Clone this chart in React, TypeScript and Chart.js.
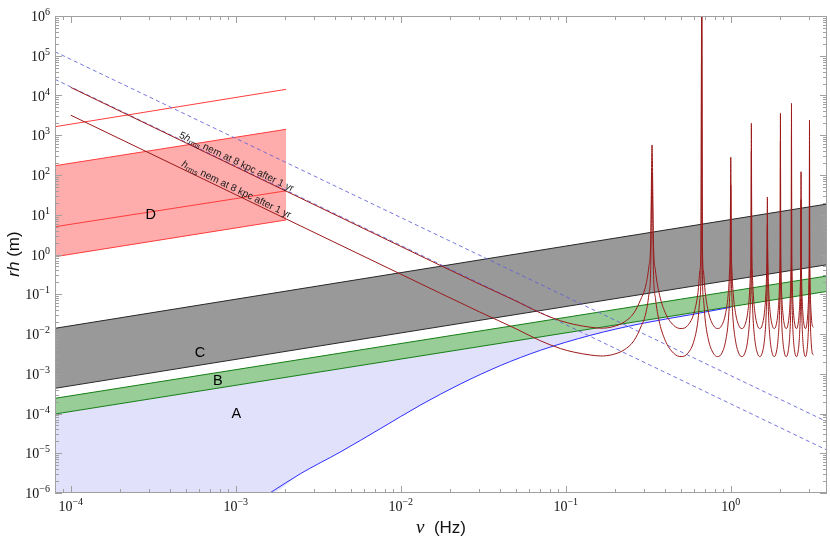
import { useEffect, useRef } from 'react';
import { Chart, registerables } from 'chart.js';

Chart.register(...registerables);

// ---- axis ranges ----
const X_MIN = 8.03e-5;
const X_MAX = 3.83;
const Y_MIN = 1e-6;
const Y_MAX = 1e6;
const xTickExp = [-4, -3, -2, -1, 0];
const yTickExp = [-6, -5, -4, -3, -2, -1, 0, 1, 2, 3, 4, 5, 6];
const minorMult = [2, 3, 4, 5, 6, 7, 8, 9];

// ---- bands B and C (values at left / right plot edge) ----
const bandFreq = [8.03e-5, 3.83];
const cUpper = [1.39e-2, 18.6];
const cLower = [4.3e-4, 0.553];
const bUpper = [2.41e-4, 0.288];
const bLower = [9.7e-5, 0.118];

// ---- band D ----
const dFreq = [8.03e-5, 2.02e-3];
const dTop = [1640, 14300];
const dUpper = [171, 1410];
const dMid = [5.0, 40];
const dLower = [0.88, 7.4];

// ---- region A (lower boundary, blue curve) ----
const aFreq = [8.03e-5, 1.61e-3, 2.48e-3, 4.33e-3, 7.57e-3, 1.32e-2, 2.31e-2, 4.04e-2, 7.05e-2, 0.142, 0.285, 0.573, 1.0];
const aLower = [1e-6, 1e-6, 3.1e-6, 1.09e-5, 4.22e-5, 1.64e-4, 5.58e-4, 1.62e-3, 3.91e-3, 9.33e-3, 1.82e-2, 3.06e-2, 4.7e-2];

// ---- dashed nem lines ----
const nemFreq = [8.03e-5, 3.83];
const nemUpper = [1.26e5, 6.2e-5];
const nemLower = [2.55e4, 1.2e-5];

// ---- h_rms and 5 h_rms curves ----
const lowFreq = [1e-4, 1e-3, 1e-2, 0.03, 0.05, 0.07, 0.093, 0.112, 0.142, 0.163, 0.19, 0.226, 0.259, 0.285, 0.306, 0.319, 0.327];
const lowH = [3200, 32, 0.32, 0.036, 0.0135, 6.8e-3, 4.3e-3, 3.5e-3, 2.95e-3, 2.8e-3, 3.0e-3, 4.0e-3, 6.8e-3, 0.015, 0.034, 0.10, 0.39];
const lowH5 = [16000, 160, 1.6, 0.18, 0.0675, 0.034, 0.0215, 0.0175, 0.01475, 0.014, 0.015, 0.020, 0.034, 0.075, 0.17, 0.50, 1.95];

const peakFreq = [0.3333, 0.6667, 1.0, 1.3333, 1.6667, 2.0, 2.3333, 2.6667, 3.0];
const peakH = [114, 2e6, 56, 400, 5.6, 714, 1270, 24, 484];
const peakH5 = [569, 1e7, 279, 2000, 28, 3570, 6360, 121, 2420];

const archFreq1 = [0.340, 0.350, 0.367, 0.400, 0.450, 0.500, 0.550, 0.600, 0.633, 0.650, 0.660];
const archFreq2 = [0.673, 0.683, 0.700, 0.733, 0.783, 0.833, 0.883, 0.933, 0.967, 0.983, 0.993];
const archFreq3 = [1.007, 1.017, 1.033, 1.067, 1.117, 1.167, 1.217, 1.267, 1.300, 1.317, 1.327];
const archFreq4 = [1.340, 1.350, 1.367, 1.400, 1.450, 1.500, 1.550, 1.600, 1.633, 1.650, 1.660];
const archFreq5 = [1.673, 1.683, 1.700, 1.733, 1.783, 1.833, 1.883, 1.933, 1.967, 1.983, 1.993];
const archFreq6 = [2.007, 2.017, 2.033, 2.067, 2.117, 2.167, 2.217, 2.267, 2.300, 2.317, 2.327];
const archFreq7 = [2.340, 2.350, 2.367, 2.400, 2.450, 2.500, 2.550, 2.600, 2.633, 2.650, 2.660];
const archFreq8 = [2.673, 2.683, 2.700, 2.733, 2.783, 2.833, 2.883, 2.933, 2.967, 2.983, 2.993];
const tailFreq = [3.007, 3.017, 3.033, 3.067, 3.117, 3.17];

const archH = [0.39, 0.077, 0.0224, 0.0070, 0.0033, 0.0027, 0.0033, 0.0070, 0.0224, 0.077, 0.39];
const archH5 = [1.95, 0.385, 0.112, 0.035, 0.0166, 0.0137, 0.0166, 0.035, 0.112, 0.385, 1.95];
const tailH = [0.39, 0.077, 0.0224, 0.0070, 0.0033, 0.0030];
const tailH5 = [1.95, 0.385, 0.112, 0.035, 0.0166, 0.0147];

// ---- text labels ----
const regionLabels = ['A', 'B', 'C', 'D'];
const regionFreq = [1.01e-3, 7.8e-4, 6.07e-4, 3.05e-4];
const regionVal = [9.9e-5, 6.65e-4, 3.37e-3, 9.86];

const COL = {
  red: 'rgb(255,60,60)',
  pink: 'rgb(255,172,172)',
  brown: 'rgb(155,25,25)',
  dash: 'rgba(95,95,215,0.85)',
  gray: 'rgb(153,153,153)',
  grayEdge: 'rgb(40,40,40)',
  green: 'rgb(152,205,152)',
  greenEdge: 'rgb(20,125,20)',
  lav: 'rgb(225,225,252)',
  blue: 'rgb(45,45,255)',
  frame: 'rgb(160,160,160)',
};

const pts = (xs: number[], ys: number[]) => xs.map((x, i) => ({ x, y: ys[i] }));

function buildCurve(lowV: number[], peakV: number[], archV: number[], tailV: number[]) {
  const arches = [archFreq1, archFreq2, archFreq3, archFreq4, archFreq5, archFreq6, archFreq7, archFreq8];
  const out = pts(lowFreq, lowV);
  peakFreq.forEach((pf, k) => {
    out.push({ x: pf, y: peakV[k] });
    const fs = k < arches.length ? arches[k] : tailFreq;
    const vs = k < arches.length ? archV : tailV;
    fs.forEach((f, i) => out.push({ x: f, y: vs[i] }));
  });
  return out;
}

const SANS = '"Liberation Sans", Arial, sans-serif';
const SERIF = '"Liberation Serif", "Times New Roman", serif';

function drawPow(ctx: CanvasRenderingContext2D, exp: number, px: number, baseY: number, align: string) {
  const base = '10';
  const e = exp < 0 ? '\u2212' + -exp : String(exp);
  ctx.font = '14px ' + SERIF;
  const wb = ctx.measureText(base).width;
  ctx.font = '10px ' + SERIF;
  const we = ctx.measureText(e).width;
  const total = wb + we;
  const left = align === 'center' ? px - total / 2 : px - total;
  ctx.textAlign = 'left';
  ctx.textBaseline = 'alphabetic';
  ctx.font = '14px ' + SERIF;
  ctx.fillText(base, left, baseY);
  ctx.font = '10px ' + SERIF;
  ctx.fillText(e, left + wb, baseY - 6);
}

function drawParts(ctx: CanvasRenderingContext2D, parts: { t: string; f: string; dy?: number }[], x0: number, y0: number) {
  let x = x0;
  ctx.textAlign = 'left';
  ctx.textBaseline = 'alphabetic';
  for (const p of parts) {
    ctx.font = p.f;
    ctx.fillText(p.t, x, y0 + (p.dy || 0));
    x += ctx.measureText(p.t).width;
  }
  return x - x0;
}

function partsWidth(ctx: CanvasRenderingContext2D, parts: { t: string; f: string }[]) {
  let w = 0;
  parts.forEach((p) => { ctx.font = p.f; w += ctx.measureText(p.t).width; });
  return w;
}

const decor = {
  id: 'decor',
  afterDraw(chart: any) {
    const { ctx, chartArea: a, scales } = chart;
    const xs = scales.x;
    const ys = scales.y;
    ctx.save();

    // frame
    ctx.strokeStyle = COL.frame;
    ctx.lineWidth = 1;
    ctx.strokeRect(a.left + 0.5, a.top + 0.5, a.right - a.left - 1, a.bottom - a.top - 1);

    // ticks
    ctx.beginPath();
    for (let d = -5; d <= 0; d++) {
      [1, ...minorMult].forEach((m) => {
        const v = m * Math.pow(10, d);
        if (v < X_MIN || v > X_MAX) return;
        const px = Math.round(xs.getPixelForValue(v)) + 0.5;
        const len = m === 1 ? 7 : 4;
        ctx.moveTo(px, a.bottom);
        ctx.lineTo(px, a.bottom - len);
        ctx.moveTo(px, a.top);
        ctx.lineTo(px, a.top + len);
      });
    }
    for (let d = -6; d <= 6; d++) {
      [1, ...minorMult].forEach((m) => {
        const v = m * Math.pow(10, d);
        if (v < Y_MIN || v > Y_MAX * 1.0001) return;
        const py = Math.round(ys.getPixelForValue(v)) + 0.5;
        const len = m === 1 ? 7 : 4;
        ctx.moveTo(a.left, py);
        ctx.lineTo(a.left + len, py);
        ctx.moveTo(a.right, py);
        ctx.lineTo(a.right - len, py);
      });
    }
    ctx.stroke();

    // tick labels
    ctx.fillStyle = '#111';
    xTickExp.forEach((e) => {
      const px = xs.getPixelForValue(Math.pow(10, e));
      drawPow(ctx, e, px, a.bottom + 18, 'center');
    });
    yTickExp.forEach((e) => {
      const py = ys.getPixelForValue(Math.pow(10, e));
      drawPow(ctx, e, a.left - 5, py + 5, 'right');
    });

    // axis titles
    ctx.fillStyle = '#111';
    {
      const parts = [
        { t: '\u03BD', f: 'italic 19px ' + SERIF },
        { t: '  (Hz)', f: '17px ' + SANS },
      ];
      const w = partsWidth(ctx, parts);
      drawParts(ctx, parts, 441 - w / 2, 533);
    }
    {
      const parts = [
        { t: 'rh', f: 'italic 17px ' + SANS },
        { t: ' (m)', f: '17px ' + SANS },
      ];
      const w = partsWidth(ctx, parts);
      ctx.save();
      ctx.translate(19, 254);
      ctx.rotate(-Math.PI / 2);
      drawParts(ctx, parts, -w / 2, 0);
      ctx.restore();
    }

    // region labels
    ctx.fillStyle = '#000';
    ctx.font = '14.5px ' + SANS;
    ctx.textAlign = 'center';
    ctx.textBaseline = 'middle';
    regionLabels.forEach((t, i) => {
      ctx.fillText(t, xs.getPixelForValue(regionFreq[i]), ys.getPixelForValue(regionVal[i]));
    });

    // rotated curve labels
    const lineLabel = (v1: number, v2: number, startF: number, parts: any[]) => {
      const p1x = xs.getPixelForValue(lowFreq[0]);
      const p1y = ys.getPixelForValue(v1);
      const p2x = xs.getPixelForValue(lowFreq[1]);
      const p2y = ys.getPixelForValue(v2);
      const ang = Math.atan2(p2y - p1y, p2x - p1x);
      const sx = xs.getPixelForValue(startF);
      const sy = p1y + (sx - p1x) * Math.tan(ang);
      ctx.save();
      ctx.translate(sx, sy);
      ctx.rotate(ang);
      ctx.fillStyle = '#1a1a1a';
      drawParts(ctx, parts, 0, -2);
      ctx.restore();
    };
    const fs = '10px ' + SANS;
    lineLabel(lowH5[0], lowH5[1], 4.45e-4, [
      { t: '5', f: fs },
      { t: 'h', f: 'italic ' + fs },
      { t: 'rms', f: '7.5px ' + SANS, dy: 2 },
      { t: ' nem at 8 kpc after 1 yr', f: fs },
    ]);
    lineLabel(lowH[0], lowH[1], 4.6e-4, [
      { t: 'h', f: 'italic ' + fs },
      { t: 'rms', f: '7.5px ' + SANS, dy: 2 },
      { t: ' nem at 8 kpc after 1 yr', f: fs },
    ]);

    ctx.restore();
  },
};

export default function App() {
  const ref = useRef<HTMLCanvasElement>(null);

  useEffect(() => {
    const canvas = ref.current;
    if (!canvas) return;
    const line = (data: any, color: string, order: number, extra: any = {}) => ({
      data,
      borderColor: color,
      borderWidth: 1,
      backgroundColor: 'transparent',
      pointRadius: 0,
      fill: false,
      order,
      ...extra,
    });
    const smooth = { cubicInterpolationMode: 'monotone' };

    const datasets: any[] = [
      /* 0 */ line(buildCurve(lowH, peakH, archH, tailH), COL.brown, 0, smooth),
      /* 1 */ line(buildCurve(lowH5, peakH5, archH5, tailH5), COL.brown, 0, smooth),
      /* 2 */ line(pts(nemFreq, nemUpper), COL.dash, 0, { borderDash: [4, 3] }),
      /* 3 */ line(pts(nemFreq, nemLower), COL.dash, 0, { borderDash: [4, 3] }),
      /* 4 */ line(pts(aFreq.slice(1), aLower.slice(1)), COL.blue, 1, smooth),
      /* 5 */ line(pts(dFreq, dTop), COL.red, 1),
      /* 6 */ line(pts(dFreq, dMid), COL.red, 1),
      /* 7 */ line(pts(bandFreq, bLower), COL.greenEdge, 2),
      /* 8 */ line(pts(bandFreq, cLower), COL.grayEdge, 2),
      /* 9 */ line(pts(dFreq, dLower), COL.red, 2),
      /* 10 */ line(pts(aFreq, aLower), 'transparent', 3, { ...smooth, borderWidth: 0, backgroundColor: COL.lav, fill: 7 }),
      /* 11 */ line(pts(bandFreq, bUpper), COL.greenEdge, 3, { backgroundColor: COL.green, fill: 7 }),
      /* 12 */ line(pts(bandFreq, cUpper), COL.grayEdge, 3, { backgroundColor: COL.gray, fill: 8 }),
      /* 13 */ line(pts(dFreq, dUpper), COL.red, 3, { backgroundColor: COL.pink, fill: 9 }),
    ];

    const chart = new Chart(canvas, {
      type: 'line',
      data: { datasets },
      options: {
        animation: false,
        responsive: false,
        devicePixelRatio: 1,
        events: [],
        layout: { padding: { left: 55, right: 3, top: 16, bottom: 46 } },
        plugins: {
          legend: { display: false },
          tooltip: { enabled: false },
          title: { display: false },
        },
        elements: { line: { tension: 0 }, point: { radius: 0 } },
        scales: {
          x: { type: 'logarithmic', min: X_MIN, max: X_MAX, display: false },
          y: { type: 'logarithmic', min: Y_MIN, max: Y_MAX, display: false },
        },
      } as any,
      plugins: [decor as any],
    });
    return () => chart.destroy();
  }, []);

  return (
    <div style={{ position: 'fixed', left: 0, top: 0, width: 830, height: 539, background: '#fff' }}>
      <canvas ref={ref} width={830} height={539} style={{ display: 'block', width: 830, height: 539 }} />
    </div>
  );
}
